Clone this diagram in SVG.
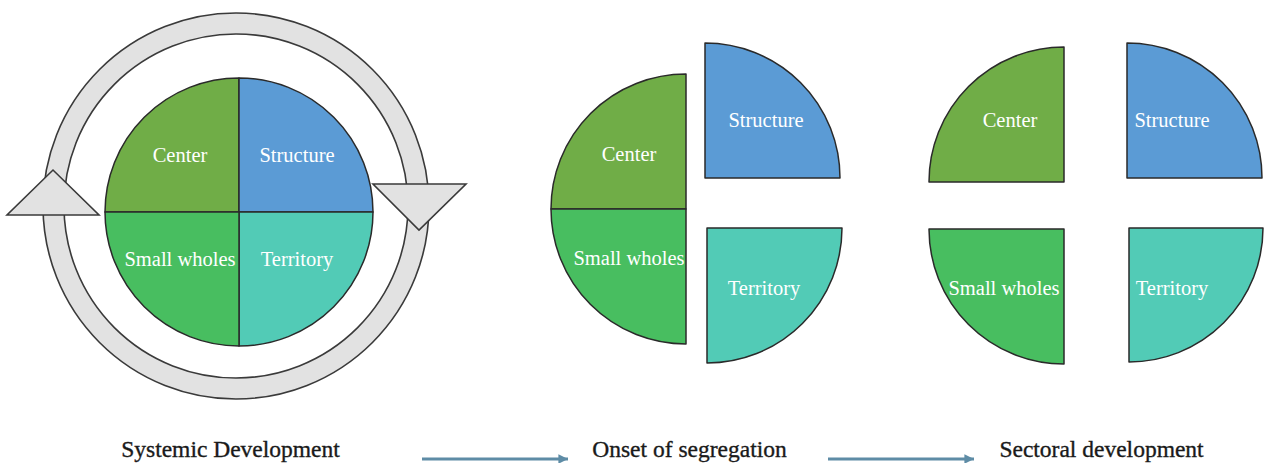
<svg xmlns="http://www.w3.org/2000/svg" width="1264" height="463" viewBox="0 0 1264 463">
  <style>
    .q { stroke: #2a2a2a; stroke-width: 1.5; stroke-linejoin: round; }
    .c { fill: #70AD47; }
    .s { fill: #5B9BD5; }
    .w { fill: #48BE60; }
    .t { fill: #52CBB6; }
    .lbl { fill: #ffffff; font-family: "Liberation Serif", "Times New Roman", serif; font-size: 20.5px; text-anchor: middle; }
    .cap { fill: #1a1a1a; stroke: #1a1a1a; stroke-width: 0.35; font-family: "Liberation Serif", "Times New Roman", serif; font-size: 23.5px; text-anchor: middle; }
    .ring { fill: #e2e2e2; stroke: #3a3a3a; stroke-width: 1.6; fill-rule: evenodd; }
    .arr { stroke: #5E8CA6; stroke-width: 3; fill: none; }
  </style>
  <defs>
    <marker id="ah" viewBox="0 0 10 10" refX="10" refY="5" markerWidth="3.8" markerHeight="3.2" markerUnits="strokeWidth" orient="auto">
      <path d="M0,0 L10,5 L0,10 Z" fill="#5E8CA6"/>
    </marker>
  </defs>
  <rect width="1264" height="463" fill="#ffffff"/>

  <g id="cycle">
    <path class="ring" d="M236,13 A193,193 0 1 1 236,399 A193,193 0 1 1 236,13 Z M236,34 A172,172 0 1 0 236,378 A172,172 0 1 0 236,34 Z"/>
    <polygon class="ring" points="7,215 99,215 53,170"/>
    <polygon class="ring" points="373,184 466,184 419,230"/>
  </g>

  <g id="systemic">
    <g id="sys-center"><path class="q c" d="M239,212 L105,212 A134,134 0 0 1 239,78 Z"/><text class="lbl" x="180" y="162">Center</text></g>
    <g id="sys-structure"><path class="q s" d="M239,212 L239,78 A134,134 0 0 1 373,212 Z"/><text class="lbl" x="297" y="162">Structure</text></g>
    <g id="sys-territory"><path class="q t" d="M239,212 L373,212 A134,134 0 0 1 239,346 Z"/><text class="lbl" x="297" y="266">Territory</text></g>
    <g id="sys-small"><path class="q w" d="M239,212 L239,346 A134,134 0 0 1 105,212 Z"/><text class="lbl" x="180" y="266">Small wholes</text></g>
  </g>

  <g id="onset">
    <g id="on-center"><path class="q c" d="M686,209 L551,209 A135,135 0 0 1 686,74 Z"/><text class="lbl" x="629" y="161">Center</text></g>
    <g id="on-small"><path class="q w" d="M686,209 L686,344 A135,135 0 0 1 551,209 Z"/><text class="lbl" x="629" y="265">Small wholes</text></g>
    <g id="on-structure"><path class="q s" d="M705,178 L705,43 A135,135 0 0 1 840,178 Z"/><text class="lbl" x="766" y="127">Structure</text></g>
    <g id="on-territory"><path class="q t" d="M707,228 L842,228 A135,135 0 0 1 707,363 Z"/><text class="lbl" x="764" y="295">Territory</text></g>
  </g>

  <g id="sectoral">
    <g id="sec-center"><path class="q c" d="M1064,182 L929,182 A135,135 0 0 1 1064,47 Z"/><text class="lbl" x="1010" y="127">Center</text></g>
    <g id="sec-structure"><path class="q s" d="M1127,178 L1127,43 A135,135 0 0 1 1262,178 Z"/><text class="lbl" x="1172" y="127">Structure</text></g>
    <g id="sec-small"><path class="q w" d="M1064,229 L1064,364 A135,135 0 0 1 929,229 Z"/><text class="lbl" x="1004" y="295">Small wholes</text></g>
    <g id="sec-territory"><path class="q t" d="M1129,228 L1263,228 A134,134 0 0 1 1129,362 Z"/><text class="lbl" x="1172" y="295">Territory</text></g>
  </g>

  <g id="captions">
    <text class="cap" x="230.5" y="457">Systemic Development</text>
    <text class="cap" x="689.5" y="457">Onset of segregation</text>
    <text class="cap" x="1101.5" y="457">Sectoral development</text>
  </g>

  <g id="connectors">
    <line class="arr" x1="422" y1="459" x2="568" y2="459" marker-end="url(#ah)"/>
    <line class="arr" x1="828" y1="459" x2="974" y2="459" marker-end="url(#ah)"/>
  </g>
</svg>
